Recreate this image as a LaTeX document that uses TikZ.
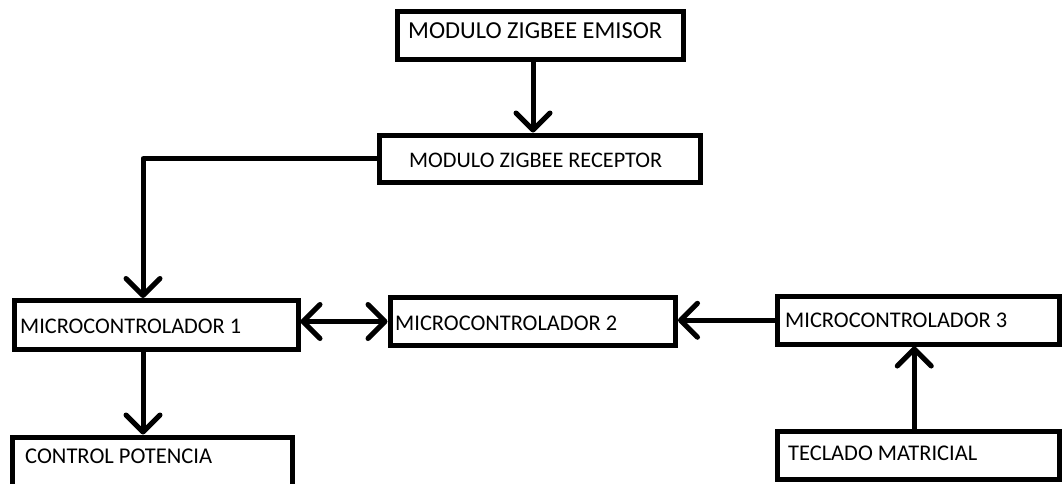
\documentclass[tikz,border=0pt]{standalone}
\usepackage{fontspec}
\setmainfont{Carlito}
\usetikzlibrary{arrows.meta}
\tikzset{
  box/.style={draw=black, line width=5pt, rectangle, inner sep=0pt, fill=white},
  lbl/.style={inner sep=0pt, anchor=base west, text=black},
  conn/.style={draw=black, line width=5pt, line cap=round, line join=round},
  arr/.style={conn, -{Straight Barb[length=17pt, width=34pt, round]}},
  darr/.style={conn, {Straight Barb[length=17pt, width=34pt, round]}-{Straight Barb[length=17pt, width=34pt, round]}}
}
\begin{document}
\begin{tikzpicture}[x=1pt, y=-1pt]
\useasboundingbox (0,0) rectangle (1062,483);
\clip (0,0) rectangle (1062,483);
\fill[white] (0,0) rectangle (1062,483);
% boxes
\node[box, minimum width=286pt, minimum height=48pt] (emisor) at (540.5,35) {};
\node[box, minimum width=321pt, minimum height=47.5pt] (receptor) at (539.5,158.75) {};
\node[box, minimum width=284pt, minimum height=48.5pt] (mc1) at (156,324.75) {};
\node[box, minimum width=285.5pt, minimum height=48pt] (mc2) at (532.75,321.5) {};
\node[box, minimum width=281.5pt, minimum height=47.5pt] (mc3) at (918.25,320.25) {};
\node[box, minimum width=280pt, minimum height=50pt] (control) at (152.5,462) {};
\node[box, minimum width=281.5pt, minimum height=47.5pt] (teclado) at (918.25,455.25) {};
% labels
\node[lbl] (temisor) at (408,38) {\resizebox{254pt}{!}{MODULO ZIGBEE EMISOR}};
\node[lbl] (treceptor) at (409,167) {\resizebox{253pt}{!}{MODULO ZIGBEE RECEPTOR}};
\node[lbl] (tmc1) at (20,333) {\resizebox{221pt}{!}{MICROCONTROLADOR 1}};
\node[lbl] (tmc2) at (395,330) {\resizebox{222pt}{!}{MICROCONTROLADOR 2}};
\node[lbl] (tmc3) at (785,327) {\resizebox{222pt}{!}{MICROCONTROLADOR 3}};
\node[lbl] (tcontrol) at (25,463) {\resizebox{187pt}{!}{CONTROL POTENCIA}};
\node[lbl] (tteclado) at (788,460) {\resizebox{189pt}{!}{TECLADO MATRICIAL}};
% connectors
\draw[arr] ([xshift=-7.5pt]emisor.south) -- ([xshift=-7.5pt]emisor.south |- receptor.north);
\draw[arr] (receptor.west) -| ([xshift=-13pt]mc1.north);
\draw[arr] ([xshift=-13pt]mc1.south) -- ([xshift=-13pt]mc1.south |- control.north);
\draw[darr] (mc1.east |- mc2.west) -- (mc2.west);
\draw[arr] (mc3.west) -- (mc2.east |- mc3.west);
\draw[arr] ([xshift=-4pt]teclado.north) -- ([xshift=-4pt]teclado.north |- mc3.south);
\end{tikzpicture}
\end{document}
